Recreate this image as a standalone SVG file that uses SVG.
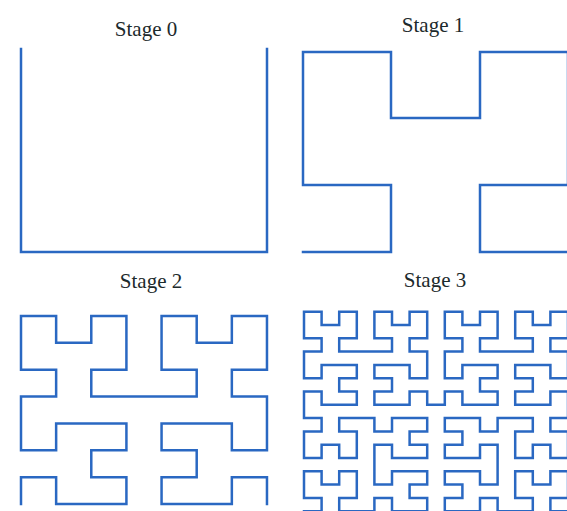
<svg xmlns="http://www.w3.org/2000/svg" width="567" height="511" viewBox="0 0 567 511">
<style>
.curve{fill:none;stroke:#2a68c2;stroke-width:2.5;stroke-linejoin:miter;stroke-linecap:square}
.label{font-family:"Liberation Serif","DejaVu Serif",serif;font-size:21px;fill:#1c2a2c;text-anchor:middle}
</style>
<rect width="567" height="511" fill="#ffffff"/>
<g id="stage0">
<text class="label" x="146" y="36">Stage 0</text>
<path class="curve" d="M21,49 V252 H267 V49"/>
</g>
<g id="stage1">
<text class="label" x="433" y="32">Stage 1</text>
<path class="curve" d="M303,252 H391 V185 H303 V52 H391 V118 H480 V52 H568 V185 H480 V252 H568"/>
</g>
<g id="stage2">
<text class="label" x="151" y="288">Stage 2</text>
<path class="curve" d="M21,504
v-26.86 h35.14 v26.86 h35.14 h35.14 v-26.86 h-35.14 v-26.86 h35.14 v-26.86 h-35.14 h-35.14 v26.86 h-35.14 v-26.86
v-26.86
h35.14 v-26.86 h-35.14 v-26.86 v-26.86 h35.14 v26.86 h35.14 v-26.86 h35.14 v26.86 v26.86 h-35.14 v26.86 h35.14
h35.14
h35.14 v-26.86 h-35.14 v-26.86 v-26.86 h35.14 v26.86 h35.14 v-26.86 h35.14 v26.86 v26.86 h-35.14 v26.86 h35.14
v26.86
v26.86 h-35.14 v-26.86 h-35.14 h-35.14 v26.86 h35.14 v26.86 h-35.14 v26.86 h35.14 h35.14 v-26.86 h35.14 v26.86"/>
</g>
<g id="stage3">
<text class="label" x="435" y="287">Stage 3</text>
<path class="curve" d="M304,511.2
h17.6 v-13.3 h-17.6 v-13.3 v-13.3 h17.6 v13.3 h17.6 v-13.3 h17.6 v13.3 v13.3 h-17.6 v13.3 h17.6
h17.6
v-13.3 h17.6 v13.3 h17.6 h17.6 v-13.3 h-17.6 v-13.3 h17.6 v-13.3 h-17.6 h-17.6 v13.3 h-17.6 v-13.3
v-13.3
v-13.3 h17.6 v13.3 h17.6 h17.6 v-13.3 h-17.6 v-13.3 h17.6 v-13.3 h-17.6 h-17.6 v13.3 h-17.6 v-13.3
h-17.6
h-17.6 v13.3 h17.6 v13.3 v13.3 h-17.6 v-13.3 h-17.6 v13.3 h-17.6 v-13.3 v-13.3 h17.6 v-13.3 h-17.6
v-13.3
v-13.3 h17.6 v13.3 h17.6 h17.6 v-13.3 h-17.6 v-13.3 h17.6 v-13.3 h-17.6 h-17.6 v13.3 h-17.6 v-13.3
v-13.3
h17.6 v-13.3 h-17.6 v-13.3 v-13.3 h17.6 v13.3 h17.6 v-13.3 h17.6 v13.3 v13.3 h-17.6 v13.3 h17.6
h17.6
h17.6 v-13.3 h-17.6 v-13.3 v-13.3 h17.6 v13.3 h17.6 v-13.3 h17.6 v13.3 v13.3 h-17.6 v13.3 h17.6
v13.3
v13.3 h-17.6 v-13.3 h-17.6 h-17.6 v13.3 h17.6 v13.3 h-17.6 v13.3 h17.6 h17.6 v-13.3 h17.6 v13.3
h17.6
v-13.3 h17.6 v13.3 h17.6 h17.6 v-13.3 h-17.6 v-13.3 h17.6 v-13.3 h-17.6 h-17.6 v13.3 h-17.6 v-13.3
v-13.3
h17.6 v-13.3 h-17.6 v-13.3 v-13.3 h17.6 v13.3 h17.6 v-13.3 h17.6 v13.3 v13.3 h-17.6 v13.3 h17.6
h17.6
h17.6 v-13.3 h-17.6 v-13.3 v-13.3 h17.6 v13.3 h17.6 v-13.3 h17.6 v13.3 v13.3 h-17.6 v13.3 h17.6
v13.3
v13.3 h-17.6 v-13.3 h-17.6 h-17.6 v13.3 h17.6 v13.3 h-17.6 v13.3 h17.6 h17.6 v-13.3 h17.6 v13.3
v13.3
h-17.6 v13.3 h17.6 v13.3 v13.3 h-17.6 v-13.3 h-17.6 v13.3 h-17.6 v-13.3 v-13.3 h17.6 v-13.3 h-17.6
h-17.6
v13.3 h-17.6 v-13.3 h-17.6 h-17.6 v13.3 h17.6 v13.3 h-17.6 v13.3 h17.6 h17.6 v-13.3 h17.6 v13.3
v13.3
v13.3 h-17.6 v-13.3 h-17.6 h-17.6 v13.3 h17.6 v13.3 h-17.6 v13.3 h17.6 h17.6 v-13.3 h17.6 v13.3
h17.6
h17.6 v-13.3 h-17.6 v-13.3 v-13.3 h17.6 v13.3 h17.6 v-13.3 h17.6 v13.3 v13.3 h-17.6 v13.3 h17.6"/>
</g>
</svg>
